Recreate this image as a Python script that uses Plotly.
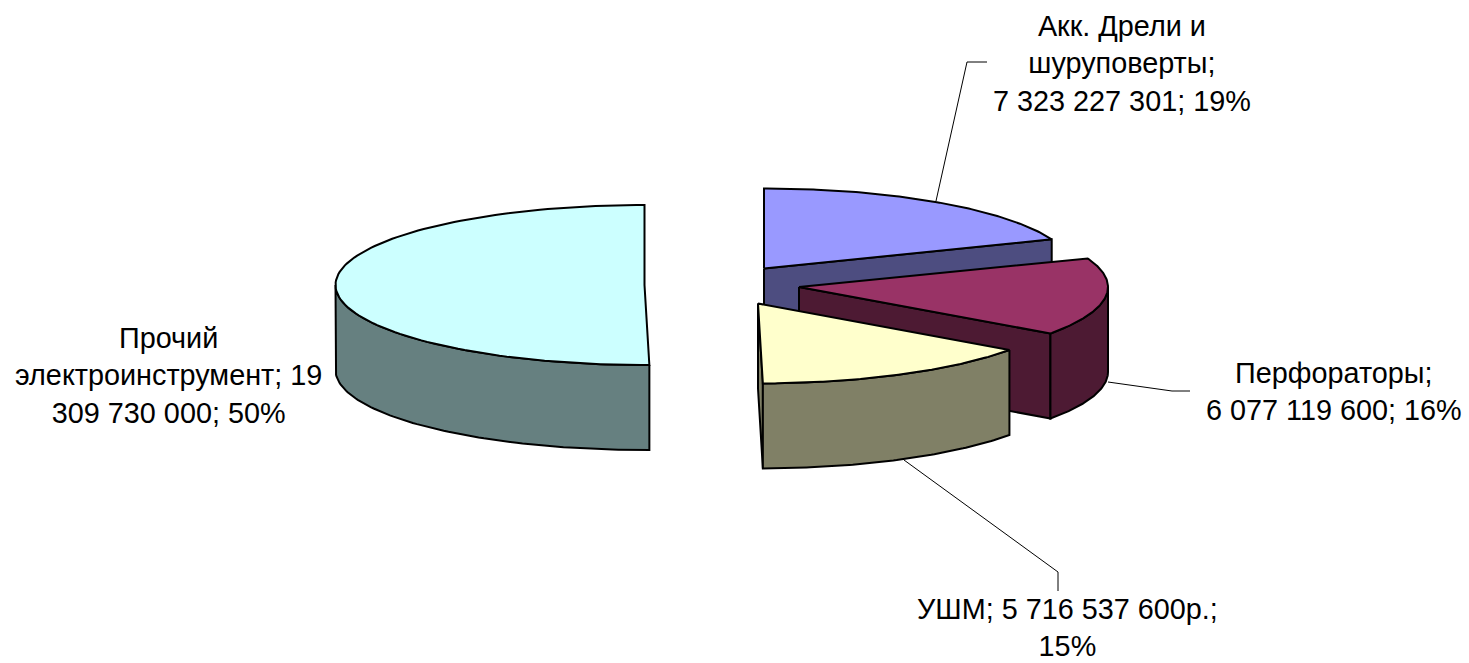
import numpy as np
import plotly.graph_objects as go

categories = ["Акк. Дрели и шуруповерты", "Перфораторы", "УШМ", "Прочий электроинструмент"]
values = [7323227301, 6077119600, 5716537600, 19309730000]
label_texts = [
    "Акк. Дрели и<br>шуруповерты;<br>7 323 227 301; 19%",
    "Перфораторы;<br>6 077 119 600; 16%",
    "УШМ; 5 716 537 600р.;<br>15%",
    "Прочий<br>электроинструмент; 19<br>309 730 000; 50%",
]
top_colors = ["#9999FF", "#993366", "#FFFFCC", "#CCFFFF"]
side_colors = ["#4D4D80", "#4D1A33", "#808066", "#668080"]

# slice placement (pie centre of each exploded slice, pixel space of the axes)
centers = [(764, 268.5), (799, 287), (758, 303.5), (644.5, 285)]
RX, RY, DEPTH = 309, 80, 85

label_pos = [(1122, 63), (1334, 391), (1067, 627), (168, 375)]
leaders = [
    ([987, 967, 936], [62, 62, 201]),
    ([1108, 1172, 1190], [382, 391, 391]),
    ([904, 1058, 1058], [460, 572, 591]),
]


def rim(cx, cy, a, drop=0.0):
    return cx + RX * np.sin(a), cy - RY * np.cos(a) + drop


def poly(fig, x, y, color):
    fig.add_trace(go.Scatter(
        x=list(x), y=list(y), mode="lines", fill="toself", fillcolor=color,
        line=dict(color="black", width=2), hoverinfo="skip", showlegend=False,
    ))


fig = go.Figure()
edges = np.concatenate([[0], np.cumsum(values)]) / sum(values) * 2 * np.pi

for i, (cx, cy) in enumerate(centers):
    a0, a1 = edges[i], edges[i + 1]
    # cut face that turns toward the viewer
    if a1 < np.pi:
        ex, ey = rim(cx, cy, a1)
        poly(fig, [cx, ex, ex, cx, cx], [cy, ey, ey + DEPTH, cy + DEPTH, cy], side_colors[i])
    # outer wall
    lo, hi = max(a0, np.pi / 2), min(a1, 3 * np.pi / 2)
    if lo < hi:
        t = np.linspace(lo, hi, 80)
        xu, yu = rim(cx, cy, t)
        xd, yd = rim(cx, cy, t[::-1], DEPTH)
        poly(fig, np.r_[xu, xd, xu[0]], np.r_[yu, yd, yu[0]], side_colors[i])
    # top face
    t = np.linspace(a0, a1, 120)
    xu, yu = rim(cx, cy, t)
    poly(fig, np.r_[cx, xu, cx], np.r_[cy, yu, cy], top_colors[i])

for lx, ly in leaders:
    fig.add_trace(go.Scatter(x=lx, y=ly, mode="lines", line=dict(color="black", width=1),
                             hoverinfo="skip", showlegend=False))

for txt, (x, y) in zip(label_texts, label_pos):
    fig.add_annotation(x=x, y=y, text=txt, showarrow=False, xanchor="center", yanchor="middle",
                       align="center", font=dict(family="Liberation Sans", size=28.8, color="black"))

fig.update_xaxes(visible=False, range=[0, 1469], fixedrange=True)
fig.update_yaxes(visible=False, range=[663, 0], fixedrange=True)
fig.update_layout(width=1469, height=663, margin=dict(l=0, r=0, t=0, b=0),
                  paper_bgcolor="white", plot_bgcolor="white", showlegend=False)
fig.write_html("out.html", config=dict(displayModeBar=False),
               post_script="document.body.style.margin='0';")
